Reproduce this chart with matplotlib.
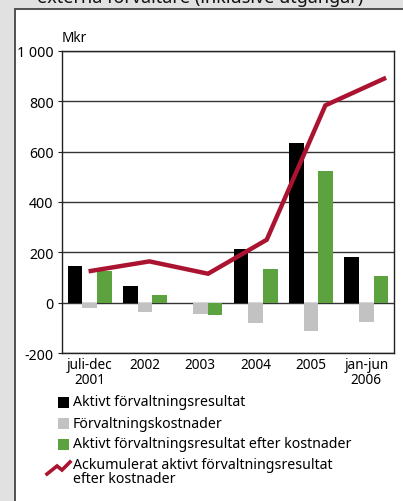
import numpy as np
import matplotlib
matplotlib.use("Agg")
import matplotlib.pyplot as plt
from matplotlib.patches import Rectangle
from matplotlib.lines import Line2D

plt.rcParams['font.family'] = ['Noto Sans', 'DejaVu Sans']

periods = ["juli-dec\n2001", "2002", "2003", "2004", "2005", "jan-jun\n2006"]
aktivt = [145, 66, -3, 213, 636, 182]
kostnader = [-20, -37, -45, -81, -114, -77]
efter_kostnader = [126, 32, -50, 135, 524, 107]
ackumulerat = [126, 164, 115, 250, 784, 890]

yticks = [-200, 0, 200, 400, 600, 800, 1000]
ytick_labels = ["-200", "0", "200", "400", "600", "800", "1 000"]

legend_labels = ["Aktivt förvaltningsresultat",
                 "Förvaltningskostnader",
                 "Aktivt förvaltningsresultat efter kostnader",
                 "Ackumulerat aktivt förvaltningsresultat\nefter kostnader"]

black = "#000000"
grey = "#c2c2c2"
green = "#5ca33f"
red = "#ab1430"

W, H = 403, 502
fig = plt.figure(figsize=(W / 100, H / 100), dpi=100)
fig.patch.set_facecolor("#e1e1e1")

def fx(px):
    return px / W

def fy(py):
    return 1 - py / H

# white panel behind everything
fig.patches.append(Rectangle((fx(15), fy(560)), fx(420), 550 / H, transform=fig.transFigure,
                             facecolor="white", edgecolor="#444444", lw=1.3, zorder=-5))
# title, cut off by the top edge like in the source
fig.text(fx(200), fy(3), "externa förvaltare (inklusive utgångar)", ha="center", va="baseline",
         fontsize=13, fontweight="bold", color="#111111")

ax = fig.add_axes([fx(62), fy(354), fx(332), 302 / H])
ax.set_facecolor("white")
x = np.arange(len(periods))
w = 0.265
ax.bar(x - w, aktivt, w, color=black, zorder=3)
ax.bar(x, kostnader, w, color=grey, zorder=3)
ax.bar(x + w, efter_kostnader, w, color=green, zorder=3)
ax.plot(x * 1.06 + 0.02, ackumulerat, color=red, lw=3.2, zorder=4, solid_joinstyle="miter")

ax.set_xlim(-0.5, len(periods) - 0.5)
ax.set_ylim(-200, 1000)
ax.set_yticks(yticks)
ax.set_yticklabels(ytick_labels)
ax.set_xticks(x)
ax.set_xticklabels(periods, linespacing=0.95)
ax.tick_params(axis="y", length=3, width=0.8, pad=3, labelsize=10.2, color="#222222")
ax.tick_params(axis="x", length=0, pad=3, labelsize=9.8)
ax.grid(axis="y", color="#333333", lw=1, zorder=1)
for s in ax.spines.values():
    s.set_color("#222222")
    s.set_linewidth(1)

fig.text(fx(62), fy(38), "Mkr", ha="left", va="center", fontsize=9.8)

# legend
ys = [403, 424, 445]
cols = [black, grey, green]
for yy, c, lab in zip(ys, cols, legend_labels[:3]):
    fig.patches.append(Rectangle((fx(58), fy(yy + 5.5)), fx(11), 11 / H, transform=fig.transFigure,
                                 facecolor=c, edgecolor="none"))
    fig.text(fx(73), fy(yy), lab, ha="left", va="center", fontsize=10.2)
fig.lines.append(Line2D([fx(47), fx(57), fx(62), fx(70)], [fy(475), fy(467), fy(471), fy(463)],
                        transform=fig.transFigure, color=red, lw=2.6, solid_joinstyle="miter"))
fig.text(fx(73), fy(458), legend_labels[3], ha="left", va="top", fontsize=10.2, linespacing=0.95)

fig.savefig("out.png", dpi=100, facecolor=fig.get_facecolor())
